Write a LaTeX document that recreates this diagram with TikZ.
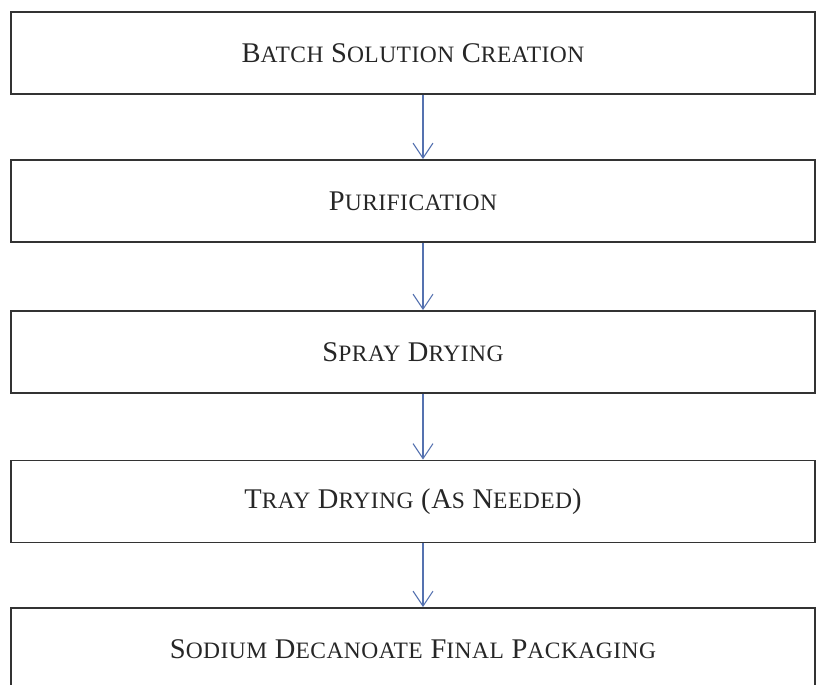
\documentclass[tikz,border=0pt]{standalone}
\usepackage{fontspec}
\setmainfont[LetterSpace=2]{Liberation Serif}
\usetikzlibrary{arrows.meta}
\newcommand\smcp[1]{{\fontsize{23.5}{23.5}\selectfont #1}}
\definecolor{boxline}{HTML}{333333}
\definecolor{arrowblue}{HTML}{5572B0}
\tikzset{
  stepbox/.style={draw=boxline, line width=1.8pt, minimum width=804pt, minimum height=82pt,
    inner sep=0pt, font=\fontsize{28.5}{28.5}\selectfont, text=black!85},
  flow/.style={draw=arrowblue, line width=1.1pt, -{Straight Barb[length=15pt,width=20pt,line width=1.1pt]}}
}
\begin{document}
\begin{tikzpicture}[x=1pt,y=-1pt]
\useasboundingbox (0,0) rectangle (817,685);
\clip (0,0) rectangle (817,685);
\node[stepbox] (b1) at (413,53) {B\smcp{ATCH} S\smcp{OLUTION} C\smcp{REATION}};
\node[stepbox] (b2) at (413,201) {P\smcp{URIFICATION}};
\node[stepbox] (b3) at (413,352) {S\smcp{PRAY} D\smcp{RYING}};
\node[stepbox] (b4) at (413,501.5) {T\smcp{RAY} D\smcp{RYING} (A\smcp{S} N\smcp{EEDED})};
\node[stepbox] (b5) at (413,649) {S\smcp{ODIUM} D\smcp{ECANOATE} F\smcp{INAL} P\smcp{ACKAGING}};
\coordinate (ax) at (423,0);
\draw[flow] (b1.south -| ax) -- (b2.north -| ax);
\draw[flow] (b2.south -| ax) -- (b3.north -| ax);
\draw[flow] (b3.south -| ax) -- (b4.north -| ax);
\draw[flow] (b4.south -| ax) -- (b5.north -| ax);
\end{tikzpicture}
\end{document}
